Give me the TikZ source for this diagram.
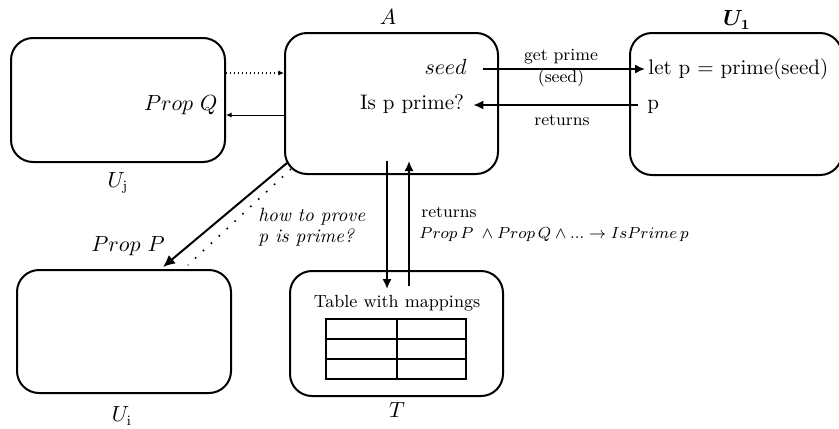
\documentclass[tikz,border=0pt]{standalone}
\usetikzlibrary{arrows.meta}
\usepackage{amsmath,bm}
\begin{document}
\begin{tikzpicture}[x=0.5pt,y=-0.5pt,
  box/.style={draw,line width=1pt,rounded corners=11pt,inner sep=0pt},
  big/.style={inner sep=0pt,font=\fontsize{10.5}{12.6}\selectfont},
  lab/.style={inner sep=0pt,font=\fontsize{8.6}{10.4}\selectfont},
  arr/.style={line width=0.9pt,-{Latex[length=5pt,width=4.6pt]}},
  thinarr/.style={line width=0.5pt,-{Latex[length=2.8pt,width=2.6pt]}},
  dotarr/.style={line width=0.6pt,dash pattern=on 0.6pt off 1.4pt,-{Latex[length=2.8pt,width=2.6pt]}},
  sparsedots/.style={line width=0.8pt,dash pattern=on 0.8pt off 4.6pt},
  grid/.style={line width=1pt}]
\useasboundingbox (0,0) rectangle (839,428);
% boxes
\node[box,minimum width=107pt,minimum height=62pt] (Uj) at (118,100) {};
\node[box,minimum width=106.5pt,minimum height=70.5pt] (A) at (391.5,103.5) {};
\node[box,minimum width=106pt,minimum height=71pt] (U1) at (736,104) {};
\node[box,minimum width=107pt,minimum height=61.5pt] (Ui) at (124,331.5) {};
\node[box,minimum width=106.5pt,minimum height=62.5pt] (T) at (396.5,333.5) {};
% box labels
\node[big] (lA) at (388,17) {$A$};
\node[big] (lU1) at (737,20) {$\boldsymbol{U_1}$};
\node[big] (lUj) at (118,183) {$U_{\mathrm{j}}$};
\node[big] (lUi) at (122,416) {$U_{\mathrm{i}}$};
\node[big] (lT) at (397,410) {$T$};
% texts
\node[big,anchor=base east] (seed) at (467,74) {$seed$};
\node[big,anchor=base] (isp) at (412,109) {Is p prime?};
\node[big,anchor=base west] (let) at (648,74) {let p = prime(seed)};
\node[big,anchor=base west] (p) at (647,109) {p};
\node[big,anchor=base east] (propQ) at (218,110) {$Prop\ Q$};
\node[big] (propP) at (128,246) {$Prop\ P$};
\node[inner sep=0pt,anchor=west,align=left,font=\fontsize{9.6}{11}\selectfont\itshape] (how) at (258,227) {how to prove\\[-0.6pt]p is prime?};
\node[lab] (gp) at (561,57) {get prime};
\node[lab] (gs) at (561,78) {(seed)};
\node[lab] (ret1) at (562,120) {returns};
\node[lab,anchor=west] (ret2) at (421,212) {returns};
\node[inner sep=0pt,anchor=west,font=\fontsize{8.5}{10.2}\selectfont] (form) at (419,235) {$Prop\,P\;\wedge Prop\,Q \wedge ... \rightarrow IsPrime\,p$};
\node[inner sep=0pt,font=\fontsize{8.8}{10.5}\selectfont] (tw) at (397,303) {Table with mappings};
% table grid
\draw[grid] (326,319) rectangle (466,379);
\draw[grid] (397,319) -- (397,379);
\draw[grid] (326,339) -- (466,339);
\draw[grid] (326,359) -- (466,359);
% connectors
\draw[arr] ([xshift=8pt,yshift=2.5pt]seed.base east) -- ([xshift=-1.5pt,yshift=2.5pt]let.base west);
\draw[arr] ([xshift=-4.5pt,yshift=2pt]p.base west) -- ([xshift=4.5pt,yshift=2pt]isp.base east);
\draw[dotarr] (Uj.east |- 0,73) -- (A.west |- 0,73);
\draw[thinarr] (A.west |- 0,115) -- (Uj.east |- 0,115);
\draw[line width=1pt,-{Latex[length=6pt,width=5.5pt]}] ([xshift=1.5pt,yshift=6pt]A.south west) -- ([xshift=19.5pt,yshift=1pt]Ui.north);
\draw[sparsedots] ([xshift=3.5pt,yshift=3pt]A.south west) -- ([xshift=32pt,yshift=2pt]Ui.north);
\draw[arr] ([xshift=-2.25pt,yshift=7pt]A.south) -- ([xshift=-4.75pt,yshift=-9.5pt]T.north);
\draw[arr] ([xshift=6.25pt,yshift=-8pt]T.north) -- ([xshift=8.75pt,yshift=7pt]A.south);
\end{tikzpicture}
\end{document}
